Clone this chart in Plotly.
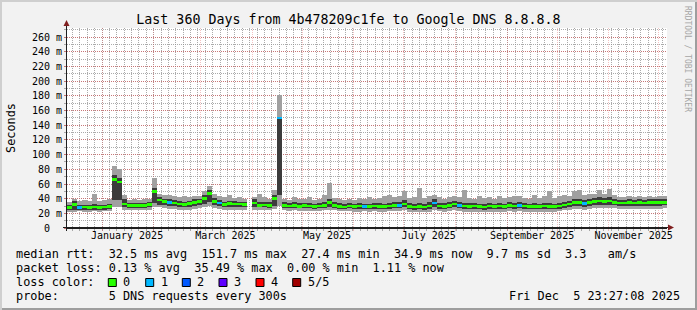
import plotly.graph_objects as go
import pandas as pd

# ---------------- data (ms) ----------------
start = pd.Timestamp("2024-12-10 23:27:08")
end = pd.Timestamp("2025-12-05 23:27:08")
step_days = 3  # each column covers 3 days

median = [28, 32, 28, 28.5, 28, 28.5, 28, 28.5, 29, 66,
          63, 33, 30.5, 31, 30.5, 31, 32, 50, 38, 36,
          34.5, 34, 33, 32, 33.5, 35, 36, 40, 47, 36,
          34, 32, 33.5, 33, 32.5, 32, None, 34, 31, 31.5,
          30.5, 40, 150, 31, 30, 31, 29.5, 30.5, 30, 29,
          30, 31, 35, 31, 29.5, 28.5, 30, 29.5, 30, 29.5,
          29, 30, 29.5, 29, 30, 30.5, 31, 33, 29, 28.5,
          29, 28.5, 30, 34, 30, 29.5, 30.5, 33, 31, 30,
          29.5, 30, 29, 28.5, 30, 29.5, 30, 29, 30.5, 30,
          31, 30, 29, 29.5, 29, 30, 29.5, 29, 30, 31.5,
          33, 35, 34.5, 33.5, 35, 36, 37, 36, 37, 35,
          34, 34, 34.5, 34, 34.5, 34, 35, 34.5, 35, 35]
smoke_lo = [22, 22, 23, 22, 22, 23, 22, 23, 23, 28,
            28, 25, 24, 24, 24, 24, 25, 28, 28, 27,
            26, 26, 25, 25, 25, 26, 27, 28, 30, 27,
            26, 25, 25, 25, 25, 25, None, 25, 24, 24,
            24, 26, 30, 24, 23, 24, 23, 23, 23, 23,
            23, 24, 25, 24, 23, 23, 23, 22, 22, 23,
            22, 23, 22, 22, 23, 23, 23, 24, 22, 22,
            22, 22, 22, 24, 23, 22, 23, 24, 23, 22,
            22, 22, 22, 22, 22, 22, 22, 22, 23, 22,
            23, 22, 22, 22, 22, 22, 22, 22, 23, 24,
            25, 26, 26, 25, 26, 27, 27, 27, 27, 27,
            26, 26, 26, 26, 26, 26, 26, 26, 26, 27]
smoke_hi = [36, 40, 37, 38, 37, 46, 37, 38, 40, 85,
            80, 45, 38, 39, 38, 39, 40, 68, 46, 45,
            45, 44, 42, 44, 42, 44, 43, 50, 57, 46,
            44, 42, 45, 41, 42, 40, None, 42, 46, 42,
            40, 52, 182, 40, 38, 42, 40, 39, 42, 38,
            39, 45, 61, 41, 39, 38, 40, 38, 41, 39,
            42, 40, 41, 43, 45, 42, 43, 50, 41, 42,
            54, 41, 44, 45, 42, 40, 42, 43, 42, 52,
            41, 40, 43, 41, 42, 40, 44, 41, 42, 44,
            43, 41, 40, 45, 41, 43, 51, 41, 43, 45,
            44, 50, 52, 45, 46, 47, 52, 46, 53, 45,
            42, 42, 43, 42, 43, 42, 43, 42, 44, 43]
inner_lo = [25, 25, 25, 25, 25, 25, 25, 25, 26, 38,
            38, 28, 27, 27, 27, 27, 28, 34, 32, 31,
            30, 30, 29, 28, 29, 30, 31, 33, 36, 31,
            30, 28, 29, 29, 28, 28, None, 29, 28, 28,
            27, 30, 45, 27, 27, 27, 27, 27, 27, 26,
            27, 27, 29, 27, 26, 26, 27, 26, 26, 26,
            26, 26, 26, 26, 26, 27, 27, 28, 26, 25,
            26, 25, 26, 28, 26, 26, 27, 28, 27, 26,
            26, 26, 26, 25, 26, 26, 26, 26, 27, 26,
            27, 26, 26, 26, 26, 26, 26, 26, 26, 27,
            29, 30, 30, 29, 30, 31, 32, 31, 32, 31,
            30, 30, 30, 30, 30, 30, 30, 30, 30, 31]
inner_hi = [32, 37, 32, 32, 31, 33, 32, 32, 33, 72,
            68, 40, 34, 34, 34, 34, 35, 55, 42, 40,
            39, 38, 37, 36, 37, 39, 40, 45, 52, 41,
            38, 36, 37, 37, 36, 36, None, 40, 35, 36,
            35, 45, 152, 35, 34, 35, 34, 34, 34, 33,
            34, 35, 39, 35, 34, 33, 34, 33, 34, 33,
            33, 34, 34, 33, 34, 35, 36, 38, 34, 33,
            34, 33, 35, 39, 34, 34, 35, 37, 35, 34,
            34, 34, 33, 33, 34, 33, 34, 33, 35, 34,
            35, 34, 33, 34, 33, 34, 34, 33, 34, 36,
            37, 39, 39, 38, 40, 41, 42, 41, 42, 40,
            38, 38, 39, 38, 39, 38, 39, 39, 39, 39]
loss = [0, 0, 1, 0, 0, 0, 0, 0, 0, 0,
        0, 0, 0, 0, 0, 0, 0, 0, 0, 0,
        1, 0, 0, 0, 0, 0, 0, 0, 0, 0,
        1, 0, 0, 0, 0, 0, 0, 0, 0, 0,
        0, 0, 1, 0, 0, 0, 0, 0, 0, 0,
        0, 0, 0, 0, 0, 0, 0, 0, 0, 1,
        0, 0, 0, 0, 0, 0, 1, 0, 0, 0,
        0, 0, 0, 1, 0, 0, 0, 0, 1, 0,
        0, 0, 0, 0, 0, 0, 0, 0, 0, 0,
        1, 0, 0, 0, 0, 0, 0, 0, 0, 0,
        0, 0, 0, 1, 0, 0, 0, 0, 0, 0,
        0, 0, 0, 0, 0, 0, 0, 0, 0, 0]

loss_labels = ["0", "1", "2", "3", "4", "5/5"]
loss_colors = ["#26ff00", "#00b8ff", "#0059ff", "#5e00ff", "#ff0000", "#a00000"]

y_ticks = list(range(0, 261, 20))
y_ticktext = ["0\u00a0\u00a0"] + [f"{v} m" for v in y_ticks[1:]]
month_starts = pd.date_range("2025-01-01", "2025-12-01", freq="MS")
label_months = ["2025-01-01", "2025-03-01", "2025-05-01", "2025-07-01", "2025-09-01", "2025-11-01"]
label_text = ["January 2025", "March 2025", "May 2025", "July 2025", "September 2025", "November 2025"]

title = "Last 360 Days from 4b478209c1fe to Google DNS 8.8.8.8"
legend_row1 = "median rtt:  32.5 ms avg  151.7 ms max  27.4 ms min  34.9 ms now  9.7 ms sd  3.3   am/s"
legend_row2 = "packet loss: 0.13 % avg  35.49 % max  0.00 % min  1.11 % now"
legend_row3 = "loss color:"
legend_row4 = "probe:       5 DNS requests every 300s"
stamp = "Fri Dec  5 23:27:08 2025"

# ---------------- geometry ----------------
W, H = 697, 310
L, T, PW, PH = 67, 28, 600, 200
MONO = "DejaVu Sans Mono"


def px(x):
    return (x - L) / PW


def py(y):
    return (T + PH - y) / PH


n = len(median)
col_x = [start + pd.Timedelta(days=step_days * i + step_days / 2) for i in range(n)]
bar_w = step_days * 86400000


def diff(a, b):
    return [None if (u is None or v is None) else u - v for u, v in zip(a, b)]


fig = go.Figure()
fig.add_trace(go.Bar(x=col_x, base=smoke_lo, y=diff(smoke_hi, smoke_lo), width=bar_w,
                     marker=dict(color="#a0a0a0", line=dict(width=0)), showlegend=False))
fig.add_trace(go.Bar(x=col_x, base=inner_lo, y=diff(inner_hi, inner_lo), width=bar_w,
                     marker=dict(color="#3c3c3c", line=dict(width=0)), showlegend=False))
band = 3.5
for k, col in enumerate(loss_colors):
    b = [None if (m is None or l != k) else m - band / 2 for m, l in zip(median, loss)]
    if all(v is None for v in b):
        continue
    fig.add_trace(go.Bar(x=col_x, base=b, y=[band if v is not None else None for v in b],
                         width=bar_w, marker=dict(color=col, line=dict(width=0)),
                         showlegend=False))

grid_red_x = "rgba(222,79,79,0.35)"
grid_red = "rgba(222,79,79,0.55)"
grid_gray = "rgba(143,143,143,0.75)"

fig.update_layout(
    width=W, height=H,
    margin=dict(l=L, r=W - L - PW, t=T, b=H - T - PH, pad=0),
    paper_bgcolor="#f2f2f2", plot_bgcolor="#ffffff",
    barmode="overlay", bargap=0, hovermode=False,
    font=dict(family=MONO, size=10, color="#000000"),
    title=dict(text=title, x=0.5, xref="container", xanchor="center",
               y=1 - 19 / H, yref="container", yanchor="middle",
               font=dict(family=MONO, size=13.3, color="#000000")),
    xaxis=dict(type="date", range=[start, end], tickmode="array", tickvals=list(month_starts),
               showticklabels=False, showgrid=True, gridcolor=grid_red_x, griddash="1px,1px",
               gridwidth=1, ticks="outside", ticklen=2, tickcolor=grid_red_x,
               showline=True, linecolor="#1f1f1f", linewidth=1, zeroline=False,
               minor=dict(tickmode="linear", tick0="2025-01-01", dtick=31 / 7 * 86400000,
                          showgrid=True, gridcolor=grid_gray, griddash="1px,1px", gridwidth=1,
                          ticks="outside", ticklen=2, tickcolor=grid_gray)),
    xaxis2=dict(type="date", range=[start, end], overlaying="x", anchor="y", side="bottom",
                tickmode="array",
                tickvals=[pd.Timestamp(m) + pd.Timedelta(days=15) for m in label_months],
                ticktext=label_text, showgrid=False, ticks="", ticklen=0,
                tickfont=dict(family=MONO, size=10, color="#000000"), zeroline=False,
                showline=False),
    yaxis=dict(range=[0, 272.7], tickmode="array", tickvals=y_ticks, ticktext=y_ticktext,
               showgrid=True, gridcolor=grid_red, griddash="1px,1px", gridwidth=1,
               ticks="outside", ticklen=2, tickcolor=grid_red,
               tickfont=dict(family=MONO, size=10, color="#000000"),
               showline=True, linecolor="#1f1f1f", linewidth=1, zeroline=False,
               minor=dict(tickmode="linear", tick0=0, dtick=10, showgrid=True,
                          gridcolor=grid_gray, griddash="1px,1px", gridwidth=1,
                          ticks="outside", ticklen=2, tickcolor=grid_gray)),
)
# a dummy trace on xaxis2 so the overlay axis renders
fig.add_trace(go.Scatter(x=[start], y=[None], xaxis="x2", mode="markers", showlegend=False))

shapes = []
# frame shading
shapes.append(dict(type="rect", xref="paper", yref="paper", x0=px(0), x1=px(W), y0=py(0), y1=py(2),
                   fillcolor="#cfcfcf", line=dict(width=0), layer="below"))
shapes.append(dict(type="rect", xref="paper", yref="paper", x0=px(0), x1=px(2), y0=py(0), y1=py(H),
                   fillcolor="#cfcfcf", line=dict(width=0), layer="below"))
shapes.append(dict(type="rect", xref="paper", yref="paper", x0=px(2), x1=px(W), y0=py(H - 2), y1=py(H),
                   fillcolor="#9e9e9e", line=dict(width=0), layer="below"))
shapes.append(dict(type="rect", xref="paper", yref="paper", x0=px(W - 2), x1=px(W), y0=py(2), y1=py(H),
                   fillcolor="#9e9e9e", line=dict(width=0), layer="below"))
# axis extensions and arrows
shapes.append(dict(type="line", xref="paper", yref="paper", x0=px(63), x1=px(669), y0=py(227.5), y1=py(227.5),
                   line=dict(color="#1f1f1f", width=1)))
shapes.append(dict(type="line", xref="paper", yref="paper", x0=px(66.5), x1=px(66.5), y0=py(231), y1=py(25),
                   line=dict(color="#1f1f1f", width=1)))
shapes.append(dict(type="path", xref="paper", yref="paper",
                   path=f"M {px(63.5)},{py(26)} L {px(69.5)},{py(26)} L {px(66.5)},{py(20)} Z",
                   fillcolor="#801f1f", line=dict(width=0)))
shapes.append(dict(type="path", xref="paper", yref="paper",
                   path=f"M {px(668)},{py(224.5)} L {px(668)},{py(230.5)} L {px(674)},{py(227.5)} Z",
                   fillcolor="#801f1f", line=dict(width=0)))
# loss colour boxes
box_x = [108.3, 145.7, 182.3, 219, 256, 292.7]
for bx, col in zip(box_x, loss_colors):
    shapes.append(dict(type="rect", xref="paper", yref="paper", x0=px(bx), x1=px(bx + 8),
                       y0=py(278.5), y1=py(286.5), fillcolor=col, line=dict(color="#000000", width=1)))
fig.update_layout(shapes=shapes)

ann = []
LEG = 11.85


def text(x, y, s, size=LEG, anchor="left", color="#000000", angle=0):
    ann.append(dict(x=px(x), y=py(y), xref="paper", yref="paper", text=s.replace(" ", "\u00a0"),
                    showarrow=False, xanchor=anchor, yanchor="middle", textangle=angle, borderpad=0,
                    font=dict(family=MONO, size=size, color=color)))


r1, r2, r3, r4 = 254, 268.3, 282.3, 296
text(15, r1, legend_row1)
text(15, r2, legend_row2)
text(15, r3, legend_row3)
for bx, lab in zip(box_x, loss_labels):
    text(bx + 14, r3, lab)
text(15, r4, legend_row4)
text(681, r4, stamp, anchor="right")
text(11, 128, "Seconds", anchor="center", angle=-90)
text(688, 59, "RRDTOOL / TOBI OETIKER", size=8, anchor="center", color="#a6a6a6", angle=90)
fig.update_layout(annotations=ann)

fig.write_html("out.html", config=dict(displayModeBar=False))
